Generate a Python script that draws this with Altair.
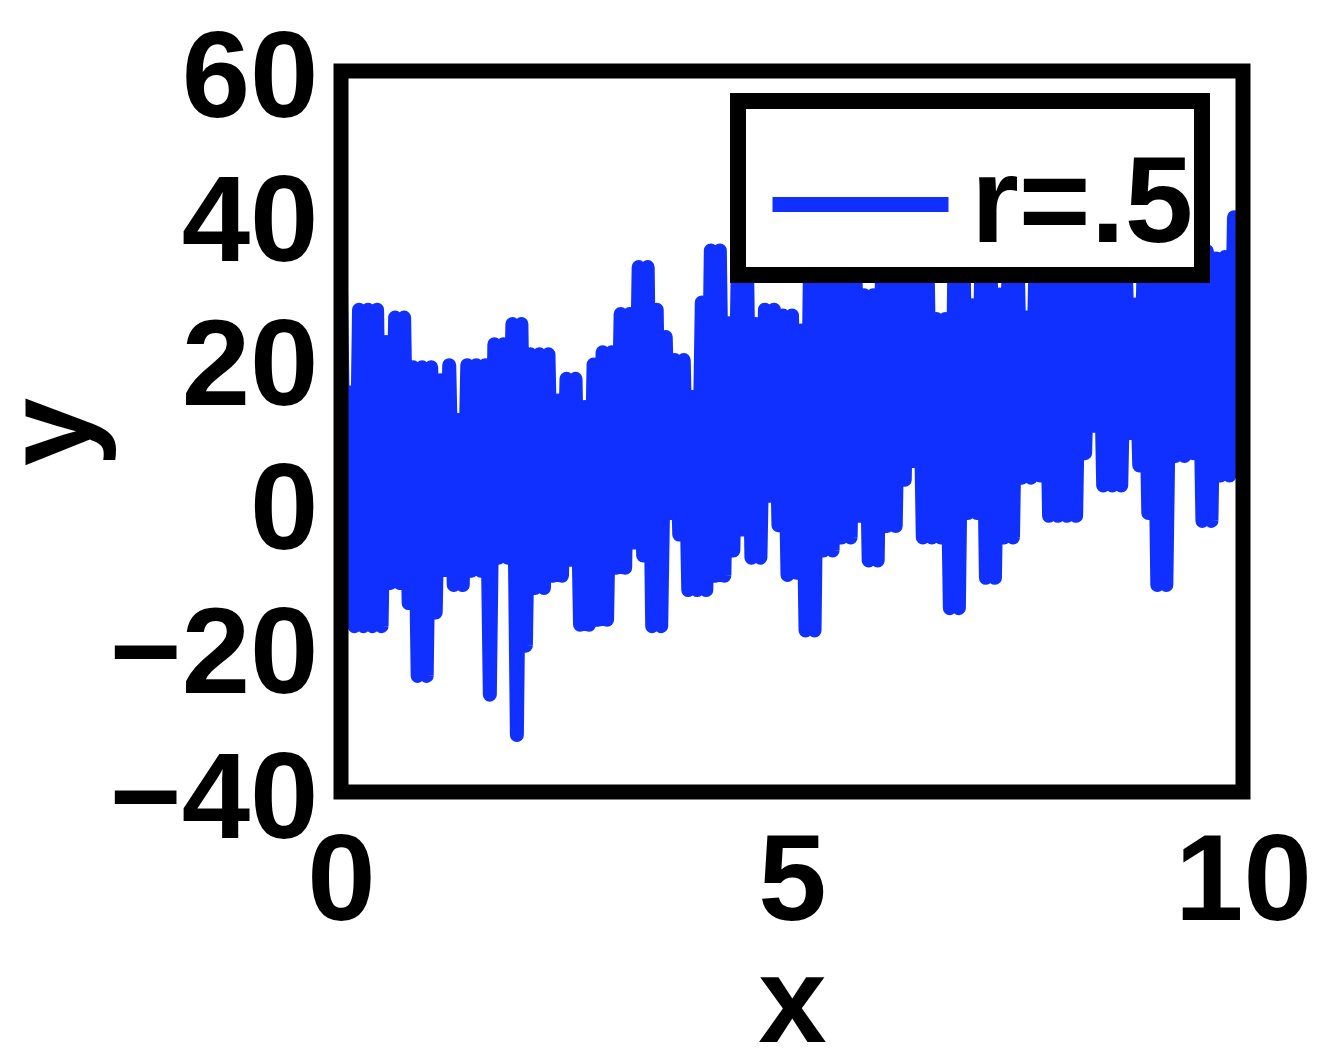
import altair as alt
import pandas as pd

# upper turning points of the noisy trace, at x = 0, 0.1, ..., 10
highs = [29.6, 15.4, 26.9, 26.9, 26.9, 22.4, 25.8, 25.8, 18.9, 18.9,
         18.9, 17.1, 19.2, 11.6, 19.2, 19.2, 19.2, 22.1, 22.1, 24.9,
         24.9, 20.7, 20.7, 20.7, 14.3, 17.3, 17.3, 13.4, 19.3, 21.0,
         21.0, 26.3, 26.3, 32.8, 32.8, 26.9, 23.1, 19.9, 19.9, 14.8,
         27.9, 35.1, 35.1, 25.0, 34.0, 34.0, 24.9, 26.9, 26.9, 26.1,
         26.1, 24.0, 34.0, 35.0, 33.0, 36.0, 34.0, 35.0, 28.9, 28.9,
         34.0, 36.0, 33.0, 35.0, 34.0, 36.0, 25.6, 25.6, 33.0, 35.0,
         27.5, 34.0, 36.0, 29.0, 33.0, 35.0, 25.8, 34.0, 36.0, 35.0,
         34.0, 37.0, 35.0, 33.0, 36.0, 34.0, 35.0, 33.0, 27.6, 34.0,
         36.0, 35.0, 33.0, 37.0, 34.0, 36.0, 35.0, 34.0, 34.2, 39.7,
         39.7]

# lower turning points, at x = 0.05, 0.15, ..., 9.95
lows = [-12.0, -17.0, -17.0, -17.0, -17.0, -11.0, -11.0, -13.8, -23.9, -23.9,
        -15.1, -9.2, -11.3, -11.3, -9.3, -9.3, -26.5, -7.5, -7.5, -32.1,
        -19.7, -11.7, -11.7, -10.0, -10.0, -7.8, -16.8, -16.8, -16.1, -16.1,
        -8.9, -8.9, -5.4, -7.2, -17.0, -17.0, -1.3, -4.3, -12.0, -12.0,
        -12.0, -10.0, -10.0, -6.5, -3.6, -7.5, -7.5, 1.1, -3.0, -9.9,
        -9.6, -17.6, -17.6, -6.5, -6.5, -4.7, -4.7, -1.7, -7.9, -7.9,
        -3.1, -3.1, 3.3, 5.9, -4.7, -4.7, -4.7, -14.5, -14.5, -1.3,
        -1.3, -10.3, -10.3, -4.7, -4.7, 3.6, 3.6, 3.9, -1.7, -1.7,
        -1.7, -1.7, 7.0, 10.8, 2.5, 2.5, 2.5, 9.8, 5.3, -1.3,
        -11.3, -11.3, 6.6, 6.6, 7.0, -2.4, -2.4, 3.9, 3.9, 8.4]

series_name = "r=.5"
x_ticks = [0, 5, 10]
y_ticks = [-40, -20, 0, 20, 40, 60]

ys = []
for i in range(len(lows)):
    ys.append(highs[i])
    ys.append(lows[i])
ys.append(highs[-1])
xs = [k * 0.05 for k in range(len(ys))]
df = pd.DataFrame({"x": xs, "y": ys, "series": series_name})

FONT = "Liberation Sans"
FS = 123
W, H = 902, 721

line = alt.Chart(df).mark_line(strokeWidth=14, strokeJoin="round", clip=True).encode(
    x=alt.X("x:Q", scale=alt.Scale(domain=[0, 10], nice=False, zero=False),
            axis=alt.Axis(values=x_ticks, title="x", grid=False, domain=False, ticks=False,
                          tickSize=0, labelPadding=30, labelFlush=False, labelOverlap=False,
                          labelLimit=0, labelFont=FONT, labelFontSize=FS,
                          labelFontWeight="bold", labelColor="black", titleFont=FONT,
                          titleFontSize=FS, titleFontWeight="bold", titleColor="black",
                          titlePadding=0)),
    y=alt.Y("y:Q", scale=alt.Scale(domain=[-40, 60], nice=False, zero=False),
            axis=alt.Axis(values=y_ticks, title="y", grid=False, domain=False, ticks=False,
                          tickSize=0, labelPadding=23, labelOffset=8, labelFlush=False,
                          labelOverlap=False, labelLimit=0, labelFont=FONT, labelFontSize=FS,
                          labelFontWeight="bold", labelColor="black", titleFont=FONT,
                          titleFontSize=FS, titleFontWeight="bold", titleColor="black",
                          titlePadding=25)),
    color=alt.Color("series:N", scale=alt.Scale(range=["#1030ff"]),
                    legend=alt.Legend(title=None, orient="none", legendX=397, legendY=30,
                                      symbolType="stroke", symbolSize=30976,
                                      symbolStrokeWidth=15, symbolOffset=19,
                                      labelFont=FONT, labelFontSize=FS,
                                      labelFontWeight="bold", labelColor="black",
                                      labelOffset=15, labelLimit=0, padding=8,
                                      fillColor="white", strokeColor="black")),
)

frame = alt.Chart(pd.DataFrame({"f": [0]})).mark_rect(
    fillOpacity=0, stroke="black", strokeWidth=15
).encode(x=alt.value(0), x2=alt.value(W), y=alt.value(0), y2=alt.value(H))

chart = alt.layer(line, frame).properties(
    width=W, height=H,
    padding={"left": 333, "top": 63, "right": 70, "bottom": 255},
    autosize=alt.AutoSizeParams(type="none"),
).configure_view(strokeWidth=0).configure_legend(strokeWidth=16, cornerRadius=0)

chart.save("out.html", embed_options={"renderer": "svg", "actions": False})
